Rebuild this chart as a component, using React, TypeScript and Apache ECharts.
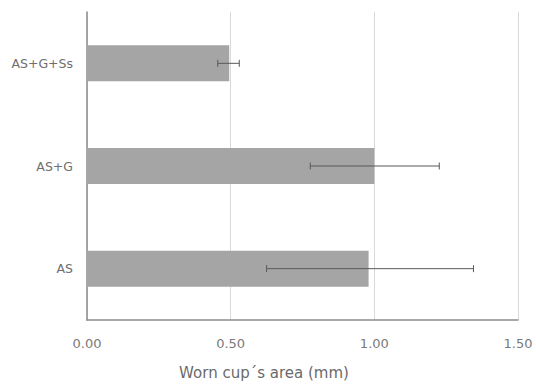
import React, { useEffect, useRef } from "react";
import * as echarts from "echarts";

const categories = ["AS", "AS+G", "AS+G+Ss"];
const means = [0.98, 1.0, 0.495];
const errLow = [0.625, 0.777, 0.455];
const errHigh = [1.345, 1.226, 0.53];
const xTicks = [0, 0.5, 1.0, 1.5];
const xName = "Worn cup´s area (mm)";

export default function App() {
  const ref = useRef<HTMLDivElement>(null);
  useEffect(() => {
    document.body.style.margin = "0";
    document.documentElement.style.overflow = "hidden";
    const chart = echarts.init(ref.current!, null, { renderer: "svg" });
    const errData = categories.map((c, i) => [i, errLow[i], errHigh[i]]);
    const font = "DejaVu Sans";
    chart.setOption({
      animation: false,
      grid: { left: 87, right: 18, top: 12, bottom: 60, containLabel: false },
      xAxis: {
        type: "value",
        min: xTicks[0],
        max: xTicks[xTicks.length - 1],
        interval: 0.5,
        name: xName,
        nameLocation: "middle",
        nameGap: 45,
        nameTextStyle: {
          color: "#6a6a6a",
          fontSize: 15,
          fontFamily: font,
          padding: [0, 77, 0, 0],
        },
        axisLine: { show: true, lineStyle: { color: "#8c8c8c", width: 1.5 } },
        axisTick: { show: false },
        axisLabel: {
          color: "#7a7a7a",
          fontSize: 13,
          fontFamily: font,
          margin: 17,
          formatter: (v: number) => v.toFixed(2),
        },
        splitLine: { show: true, lineStyle: { color: "#d9d9d9", width: 1 } },
      },
      yAxis: {
        type: "category",
        data: categories,
        axisLine: { show: true, lineStyle: { color: "#8c8c8c", width: 1.5 } },
        axisTick: { show: false },
        axisLabel: { color: "#6e6e6e", fontSize: 12.5, fontFamily: font, margin: 14 },
        splitLine: { show: false },
      },
      series: [
        {
          type: "bar",
          data: means,
          barWidth: "35%",
          itemStyle: { color: "#a5a5a5" },
          z: 2,
        },
        {
          type: "custom",
          data: errData,
          z: 3,
          renderItem: (params: any, api: any) => {
            const idx = api.value(0);
            const lo = api.coord([api.value(1), idx]);
            const hi = api.coord([api.value(2), idx]);
            const h = 3.5;
            const style = { stroke: "#595959", lineWidth: 1 };
            return {
              type: "group",
              children: [
                { type: "line", shape: { x1: lo[0], y1: lo[1], x2: hi[0], y2: hi[1] }, style },
                { type: "line", shape: { x1: lo[0], y1: lo[1] - h, x2: lo[0], y2: lo[1] + h }, style },
                { type: "line", shape: { x1: hi[0], y1: hi[1] - h, x2: hi[0], y2: hi[1] + h }, style },
              ],
            };
          },
        },
      ],
    });
    return () => chart.dispose();
  }, []);
  return <div ref={ref} style={{ width: 536, height: 385 }} />;
}
